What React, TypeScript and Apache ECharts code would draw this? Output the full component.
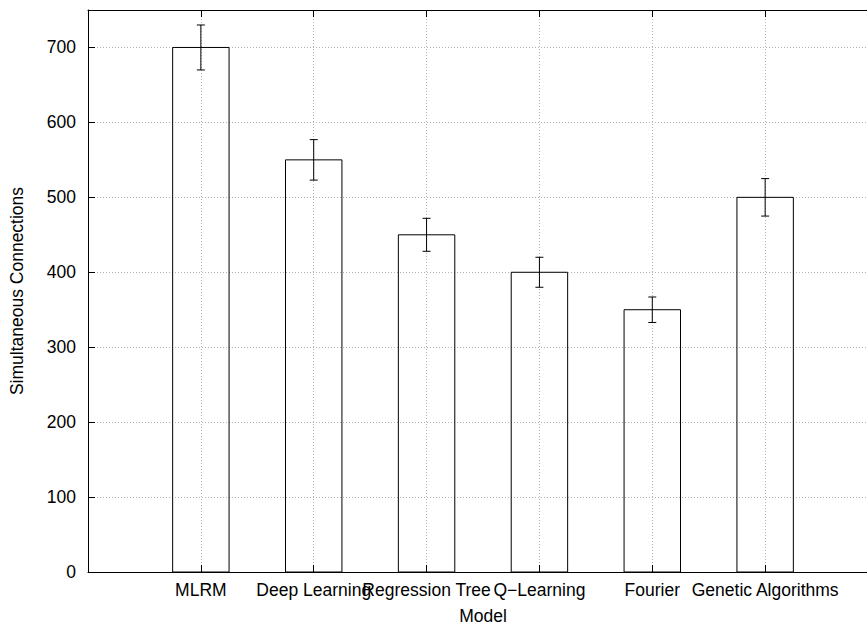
import React, { useEffect, useRef } from "react";
import * as echarts from "echarts";

const categories = ["MLRM", "Deep Learning", "Regression Tree", "Q\u2212Learning", "Fourier", "Genetic Algorithms"];
const values = [700, 550, 450, 400, 350, 500];
const errors = [30, 27, 22, 20, 17, 25];
const yTicks = [0, 100, 200, 300, 400, 500, 600, 700];

const FONT = "'Liberation Sans', Arial, Helvetica, sans-serif";

export default function App() {
  const ref = useRef<HTMLDivElement>(null);
  useEffect(() => {
    document.body.style.margin = "0";
    if (!ref.current) return;
    const chart = echarts.init(ref.current, null, { renderer: "svg" });
    const textStyle = { color: "#000", fontSize: 17.5, fontFamily: FONT };
    const grid = { color: "#b4b4b4", type: [1, 2] as number[], width: 1 };
    const xFmt = (v: number) =>
      Number.isInteger(v) && v >= 0 && v < categories.length ? categories[v] : "";
    const option: any = {
      animation: false,
      backgroundColor: "#ffffff",
      grid: {
        left: 88,
        top: 10,
        width: 790,
        height: 562,
        show: false,
        containLabel: false,
        outerBoundsMode: "none",
      },
      xAxis: [
        {
          type: "value",
          min: -1,
          max: 6,
          interval: 1,
          position: "bottom",
          axisLine: { show: true, onZero: false, lineStyle: { color: "#000", width: 1 } },
          axisTick: { show: true, inside: true, length: 7, lineStyle: { color: "#000" } },
          axisLabel: {
            ...textStyle,
            margin: 9,
            hideOverlap: false,
            formatter: xFmt,
          },
          splitLine: { show: true, showMinLine: false, showMaxLine: false, lineStyle: grid },
          name: "Model",
          nameLocation: "middle",
          nameGap: 35,
          nameTextStyle: textStyle,
        },
        {
          type: "value",
          min: -1,
          max: 6,
          interval: 1,
          position: "top",
          axisLine: { show: true, onZero: false, lineStyle: { color: "#000", width: 1 } },
          axisTick: { show: true, inside: true, length: 7, lineStyle: { color: "#000" } },
          axisLabel: { show: false },
          splitLine: { show: false },
        },
      ],
      yAxis: [
        {
          type: "value",
          min: 0,
          max: 750,
          interval: 100,
          axisLine: { show: true, onZero: false, lineStyle: { color: "#000", width: 1 } },
          axisTick: { show: true, inside: true, length: 7, lineStyle: { color: "#000" } },
          axisLabel: {
            ...textStyle,
            margin: 12,
            formatter: (v: number) => (yTicks.includes(v) ? String(v) : ""),
          },
          splitLine: { show: true, showMinLine: false, showMaxLine: false, lineStyle: grid },
          name: "Simultaneous Connections",
          nameLocation: "middle",
          nameGap: 62,
          nameRotate: 90,
          nameTextStyle: textStyle,
        },
      ],
      series: [
        {
          type: "custom",
          xAxisIndex: 0,
          yAxisIndex: 0,
          data: values.map((v, i) => [i, v]),
          encode: { x: 0, y: 1 },
          renderItem: (params: any, api: any) => {
            const x = api.value(0);
            const v = api.value(1);
            const tl = api.coord([x - 0.25, v]);
            const br = api.coord([x + 0.25, 0]);
            return {
              type: "rect",
              shape: { x: tl[0], y: tl[1], width: br[0] - tl[0], height: br[1] - tl[1] },
              style: { fill: "none", stroke: "#000", lineWidth: 1 },
            };
          },
          z: 3,
        },
        {
          type: "custom",
          xAxisIndex: 0,
          yAxisIndex: 0,
          data: values.map((v, i) => [i, v - errors[i], v + errors[i]]),
          encode: { x: 0, y: [1, 2] },
          renderItem: (params: any, api: any) => {
            const x = api.value(0);
            const lo = api.coord([x, api.value(1)]);
            const hi = api.coord([x, api.value(2)]);
            const st = { stroke: "#000", lineWidth: 1 };
            return {
              type: "group",
              children: [
                { type: "line", shape: { x1: lo[0], y1: lo[1], x2: hi[0], y2: hi[1] }, style: st },
                { type: "line", shape: { x1: lo[0] - 4, y1: lo[1], x2: lo[0] + 4, y2: lo[1] }, style: st },
                { type: "line", shape: { x1: hi[0] - 4, y1: hi[1], x2: hi[0] + 4, y2: hi[1] }, style: st },
              ],
            };
          },
          z: 4,
        },
      ],
    };
    chart.setOption(option);
    return () => chart.dispose();
  }, []);
  return <div ref={ref} style={{ width: 867, height: 626 }} />;
}
